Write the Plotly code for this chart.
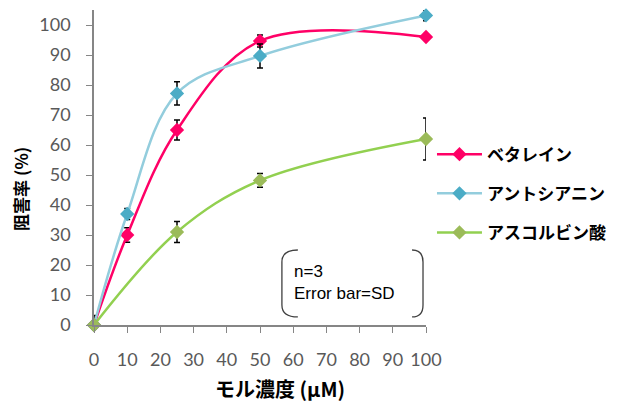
import plotly.graph_objects as go

# ---- data ----
conc_beta = [0, 10, 25, 50, 100]
beta_vals = [0, 30, 65, 94.7, 96]
beta_err = [0, 2.4, 3.3, 2.0, 0.5]

conc_antho = [0, 10, 25, 50, 100]
antho_vals = [0, 37, 77.2, 89.7, 103.2]
antho_err_plus = [3.2, 1.8, 3.9, 4.0, 1.8]
antho_err_minus = [0, 1.8, 3.9, 4.0, 1.8]

conc_asc = [0, 25, 50, 100]
asc_vals = [0, 31, 48.2, 62]
asc_err = [0, 3.5, 2.3, 7.0]

series_names = ["ベタレイン", "アントシアニン", "アスコルビン酸"]
x_ticks = [0, 10, 20, 30, 40, 50, 60, 70, 80, 90, 100]
y_ticks = [0, 10, 20, 30, 40, 50, 60, 70, 80, 90, 100]

x_title = "モル濃度 (μM)"
y_title = "阻害率 (%)"
note_text = "n=3<br>Error bar=SD"

fig = go.Figure()

err_style = dict(color="black", thickness=1.5, width=3)

fig.add_trace(go.Scatter(
    x=conc_beta, y=beta_vals, name=series_names[0], mode="lines+markers",
    line=dict(color="#FF0066", width=2.5, shape="spline", smoothing=1),
    marker=dict(symbol="diamond", size=11, color="#FF0066"),
    error_y=dict(type="data", array=beta_err, visible=True, **err_style),
    cliponaxis=False, legendgroup="a",
))
fig.add_trace(go.Scatter(
    x=conc_antho, y=antho_vals, name=series_names[1], mode="lines+markers",
    line=dict(color="#93CDDD", width=2.5, shape="spline", smoothing=1),
    marker=dict(symbol="diamond", size=11, color="#4BACC6"),
    error_y=dict(type="data", array=antho_err_plus, arrayminus=antho_err_minus,
                 symmetric=False, visible=True, **err_style),
    cliponaxis=False, legendgroup="b",
))
fig.add_trace(go.Scatter(
    x=conc_asc, y=asc_vals, name=series_names[2], mode="lines+markers",
    line=dict(color="#92D050", width=2.5, shape="spline", smoothing=1),
    marker=dict(symbol="diamond", size=11, color="#9BBB59"),
    error_y=dict(type="data", array=asc_err, visible=True, **err_style),
    cliponaxis=False, legendgroup="c",
))

tick_font = dict(family="Lato, Liberation Sans, sans-serif", size=18, color="#595959")
cjk = "Noto Sans CJK JP, sans-serif"

# the page body adds an 8px margin, so the figure is 8px smaller and shifted
fig.update_layout(
    width=615, height=397,
    margin=dict(l=86, r=197, t=2, b=80, autoexpand=False),
    paper_bgcolor="white", plot_bgcolor="white",
    showlegend=True,
    legend=dict(
        x=1.018, y=0.598, xanchor="left", yanchor="top",
        font=dict(family=cjk, size=17, color="black", weight="bold"),
        tracegroupgap=14, bgcolor="rgba(0,0,0,0)", itemwidth=45,
    ),
    xaxis=dict(
        range=[0, 100], tickvals=x_ticks, ticks="outside", ticklen=6,
        tickcolor="#868686", tickwidth=1.2,
        showline=True, linecolor="#868686", linewidth=1.5,
        showgrid=False, zeroline=False, tickfont=tick_font,
        ticklabelstandoff=12, automargin=False,
    ),
    yaxis=dict(
        range=[0, 105], tickvals=y_ticks, ticks="outside", ticklen=6,
        tickcolor="#868686", tickwidth=1.2,
        showline=True, linecolor="#868686", linewidth=1.5,
        showgrid=False, zeroline=False, tickfont=tick_font,
        ticklabelstandoff=12, automargin=False,
    ),
)

# axis titles as annotations
fig.add_annotation(
    text=x_title, xref="paper", yref="paper", x=0.56, y=-0.203,
    xanchor="center", yanchor="middle", showarrow=False,
    font=dict(family=cjk, size=20, color="black", weight="bold"),
)
fig.add_annotation(
    text=y_title, xref="paper", yref="paper", x=-0.22, y=0.432,
    xanchor="center", yanchor="middle", showarrow=False, textangle=-90,
    font=dict(family=cjk, size=17, color="black", weight="bold"),
)

# note with bracket decorations
fig.add_annotation(
    text=note_text, xref="x", yref="y", x=59.5, y=14.2,
    xanchor="left", yanchor="middle", showarrow=False, align="left",
    font=dict(family="Liberation Sans, Arial, sans-serif", size=17, color="black"),
)
fig.add_shape(type="path", xref="x", yref="y",
              path="M 61.4,25 Q 56.6,25 56.6,21 L 56.6,6.7 Q 56.6,2.7 61.4,2.7",
              line=dict(color="#404040", width=1.3))
fig.add_shape(type="path", xref="x", yref="y",
              path="M 95.8,25 Q 99.1,25 99.1,21 L 99.1,6.7 Q 99.1,2.7 95.8,2.7",
              line=dict(color="#404040", width=1.3))

fig.write_html("out.html")
